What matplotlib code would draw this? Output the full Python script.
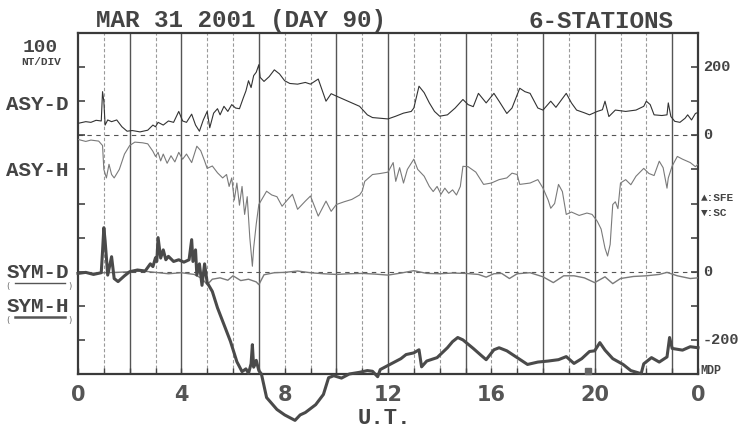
import matplotlib
matplotlib.use("Agg")
import matplotlib.pyplot as plt
import matplotlib.transforms as mtransforms

# ---- data (nT) ----
asy_d_t = [0.0, 0.3, 0.5, 0.7, 0.9, 0.95, 1.0, 1.05, 1.15, 1.3, 1.5, 1.7, 1.9, 2.1, 2.4, 2.7, 2.9, 3.0,
           3.1, 3.3, 3.5, 3.7, 3.9, 4.05, 4.2, 4.4, 4.55, 4.7, 4.85, 5.0, 5.1, 5.25, 5.4, 5.5, 5.65, 5.8,
           5.95, 6.1, 6.25, 6.4, 6.5, 6.6, 6.7, 6.8, 6.9, 7.0, 7.05, 7.2, 7.4, 7.6, 7.8, 8.0, 8.2, 8.5,
           8.8, 9.0, 9.3, 9.6, 9.8, 10.0, 10.3, 10.6, 10.9, 11.2, 11.4, 11.7, 12.0, 12.3, 12.6, 12.9,
           13.0, 13.2, 13.4, 13.6, 13.8, 14.0, 14.3, 14.6, 14.9, 15.1, 15.3, 15.5, 15.8, 16.1, 16.3,
           16.6, 16.8, 17.1, 17.3, 17.5, 17.8, 18.0, 18.3, 18.5, 18.9, 19.1, 19.3, 19.6, 19.8, 20.1,
           20.3, 20.4, 20.55, 20.8, 21.2, 21.6, 21.9, 22.0, 22.15, 22.3, 22.6, 22.8, 22.85, 22.95,
           23.1, 23.3, 23.5, 23.6, 23.75, 23.9, 24.0]
asy_d = [35, 40, 38, 44, 42, 128, 100, 30, 45, 40, 45, 25, 12, 14, 10, 15, 30, 25,
         38, 30, 42, 38, 70, 42, 38, 62, 30, 12, 45, 70, 22, 65, 78, 60, 85, 70,
         90, 80, 78, 110, 130, 160, 140, 175, 185, 207, 170, 158, 172, 192, 180, 160, 152, 150,
         155, 150, 165, 100, 122, 115, 105, 95, 85, 60, 52, 50, 48, 56, 65, 70,
         80, 144, 125, 95, 70, 56, 60, 80, 105, 90, 84, 123, 95, 123, 100,
         64, 80, 138, 128, 123, 80, 74, 100, 82, 123, 95, 74, 66, 60, 70,
         75, 100, 55, 74, 70, 74, 85, 100, 90, 60, 58, 60, 95, 55,
         41, 38, 50, 60, 45, 64, 67]

asy_h_t = [0.0, 0.3, 0.5, 0.8, 0.95, 1.0, 1.1, 1.2, 1.3, 1.4, 1.6, 1.8, 2.0, 2.2, 2.5, 2.7, 2.9, 3.0,
           3.1, 3.2, 3.3, 3.45, 3.6, 3.75, 3.9, 4.05, 4.2, 4.4, 4.6, 4.75, 4.9, 5.0, 5.2, 5.4, 5.6,
           5.75, 5.85, 5.95, 6.05, 6.15, 6.25, 6.35, 6.45, 6.55, 6.65, 6.75, 6.8, 6.9, 7.0, 7.3, 7.5,
           7.7, 7.9, 8.1, 8.3, 8.5, 8.8, 9.0, 9.3, 9.6, 9.8, 10.0, 10.3, 10.6, 10.9, 11.0, 11.1, 11.4,
           11.7, 12.0, 12.2, 12.3, 12.45, 12.6, 12.75, 12.9, 13.0, 13.15, 13.4, 13.6, 13.75, 13.9,
           14.05, 14.2, 14.35, 14.5, 14.65, 14.8, 14.9, 15.1, 15.4, 15.7, 16.0, 16.3, 16.6, 16.8,
           17.0, 17.1, 17.5, 17.8, 18.0, 18.2, 18.3, 18.45, 18.6, 18.75, 18.9, 19.1, 19.4, 19.7,
           19.9, 20.1, 20.25, 20.4, 20.5, 20.6, 20.7, 20.8, 20.9, 21.0, 21.2, 21.4, 21.6, 21.9,
           22.1, 22.3, 22.5, 22.65, 22.8, 22.85, 23.0, 23.2, 23.4, 23.7, 23.9, 24.0]
asy_h = [-12, -18, -14, -17, -30, -100, -125, -85, -115, -125, -100, -55, -30, -20, -22, -25, -47, -62,
         -50, -75, -55, -82, -60, -78, -50, -70, -55, -80, -32, -45, -75, -97, -90, -110, -125,
         -115, -150, -125, -190, -140, -205, -150, -232, -180, -300, -384, -330, -260, -203, -164, -175,
         -180, -208, -190, -173, -217, -193, -178, -237, -193, -223, -203, -195, -188, -175, -164, -135, -115,
         -112, -108, -80, -135, -95, -140, -100, -82, -70, -100, -120, -150, -165, -150,
         -173, -155, -170, -160, -175, -150, -91, -92, -108, -144, -140, -130, -125, -111,
         -115, -144, -140, -130, -155, -190, -214, -200, -144, -165, -232, -225, -235, -228,
         -232, -252, -275, -331, -354, -320, -203, -195, -215, -140, -130, -145, -120, -97,
         -112, -118, -76, -95, -155, -125, -90, -62, -70, -80, -92, -85]

sym_d_t = [0, 0.5, 1.0, 1.5, 2.0, 2.5, 3.0, 3.5, 4.0, 4.5, 4.8, 5.0, 5.2, 5.5, 5.8, 6.0, 6.3, 6.6,
           6.9, 7.0, 7.2, 7.6, 8.0, 8.5, 9.0, 9.5, 10, 10.5, 11, 11.5, 12.0, 12.5, 13.0, 13.5, 14,
           14.5, 15, 15.5, 15.8, 16.1, 16.4, 16.7, 17.0, 17.5, 18.0, 18.4, 18.8, 19.2, 19.6, 20.0,
           20.4, 20.7, 21.0, 21.5, 22.0, 22.5, 22.8, 23.2, 23.7, 24.0]
sym_d = [-3, -5, -3, -2, 0, 2, -2, -6, -3, -8, -20, -38, -22, -18, -25, -12, -26, -22,
         -30, -38, -9, -3, -2, 2, -3, -6, -8, -6, -5, -7, -10, -4, 3, -5, -6,
         -4, -5, -8, -16, -6, -5, -20, -6, -3, -15, -32, -12, -12, -18, -32,
         -15, -35, -20, -14, -12, -8, -2, -12, -20, -18]

sym_h_t = [0.0, 0.3, 0.6, 0.9, 0.95, 1.0, 1.05, 1.15, 1.3, 1.4, 1.55, 1.8, 2.0, 2.3, 2.6, 2.8, 2.9,
           3.0, 3.05, 3.1, 3.2, 3.3, 3.4, 3.5, 3.7, 3.9, 4.1, 4.3, 4.4, 4.45, 4.55, 4.6, 4.7, 4.8,
           4.9, 5.0, 5.2, 5.4, 5.65, 5.9, 6.15, 6.35, 6.5, 6.6, 6.7, 6.75, 6.8, 6.9, 7.0, 7.1, 7.3,
           7.7, 8.0, 8.2, 8.4, 8.6, 8.8, 9.2, 9.5, 9.7, 9.9, 10.2, 10.5, 10.9, 11.2, 11.4, 11.6,
           11.7, 12.0, 12.2, 12.5, 12.7, 13.0, 13.2, 13.3, 13.5, 13.9, 14.3, 14.5, 14.7, 14.9,
           15.3, 15.6, 15.8, 16.1, 16.3, 16.6, 17.0, 17.4, 17.8, 18.2, 18.6, 18.9, 19.2, 19.5,
           19.8, 20.0, 20.2, 20.4, 20.7, 21.1, 21.4, 21.8, 21.9, 22.2, 22.5, 22.8, 22.9, 23.0,
           23.4, 23.7, 24.0]
sym_h = [-5, -2, -8, -3, 60, 129, 90, -10, 44, -20, -29, -12, 0, 5, 2, 23, 15,
         41, 30, 100, 40, 64, 35, 45, 30, 35, 28, 35, 94, 30, 64, -10, 23, -40,
         23, -32, -58, -106, -155, -204, -264, -293, -285, -298, -270, -214, -280, -260, -290, -300, -369,
         -404, -420, -428, -436, -420, -413, -390, -360, -311, -305, -312, -300, -295, -290, -292, -308,
         -287, -275, -267, -255, -243, -238, -229, -279, -262, -252, -223, -205, -193, -200,
         -225, -245, -258, -229, -223, -232, -252, -272, -265, -262, -258, -249, -269, -255,
         -234, -232, -208, -230, -255, -272, -290, -299, -270, -252, -265, -250, -193, -225,
         -230, -220, -223]

solid_hours = [2, 4, 7, 10, 12, 15, 18, 20, 23]
tick_hours = [0, 4, 8, 12, 16, 20, 24]
tick_labels = ['0', '4', '8', '12', '16', '20', '0']

ASY_OFF = 400  # ASY panel zero sits 4 divisions above SYM zero

W, H = 749, 429
mono = ['Liberation Mono', 'DejaVu Sans Mono']


def px(x, y):
    return x / W, 1 - y / H


fig = plt.figure(figsize=(W / 100, H / 100), dpi=100)
fig.patch.set_facecolor('white')
ax = fig.add_axes([78 / W, 1 - 374 / H, 620 / W, 341 / H])
ax.set_xlim(0, 24)
ax.set_ylim(-300, 700)

# hour lines
for h in range(1, 24):
    if h in solid_hours:
        ax.axvline(h, color='#555555', lw=1.0, zorder=1)
    else:
        ax.axvline(h, color='#9a9a9a', lw=0.8, ls=(0, (3, 2)), zorder=1)

# zero lines
ax.axhline(ASY_OFF, color='#555555', lw=0.8, ls=(0, (4, 4)), zorder=1)
ax.axhline(0, color='#555555', lw=0.8, ls=(0, (4, 4)), zorder=1)

ax.plot(asy_d_t, [v + ASY_OFF for v in asy_d], color='#333333', lw=0.8, zorder=3)
ax.plot(asy_h_t, [v + ASY_OFF for v in asy_h], color='#7a7a7a', lw=0.8, zorder=3)
ax.plot(sym_d_t, sym_d, color='#7a7a7a', lw=1.0, zorder=3)
ax.plot(sym_h_t, sym_h, color='#4a4a4a', lw=2.2, zorder=4, clip_on=False)

# small marker on bottom axis
ax.plot([19.75], [-292], marker='s', ms=5, color='#666666', clip_on=False, zorder=5)

for s in ax.spines.values():
    s.set_color('#3a3a3a')
    s.set_linewidth(1.6)

ax.set_yticks(range(-200, 700, 100))
ax.yaxis.set_ticks_position('both')
ax.tick_params(axis='y', direction='in', length=5, width=1.2, colors='#444444',
               labelleft=False, labelright=False)
ax.set_xticks(tick_hours)
ax.set_xticklabels(tick_labels)
ax.set_xticks(range(25), minor=True)
ax.tick_params(axis='x', which='both', direction='in', length=4, width=1.0, colors='#444444',
               pad=8, labelsize=15, labelcolor='#555555')
for lab in ax.get_xticklabels():
    lab.set_fontweight('bold')

# right-hand labels
tr = mtransforms.blended_transform_factory(ax.transAxes, ax.transData)
for y, s in [(600, '200'), (400, '0'), (0, '0'), (-200, '-200')]:
    ax.text(1.008, y, s, transform=tr, ha='left', va='center', fontsize=11,
            fontweight='bold', family=mono, color='#444444')
fig.text(*px(701, 198), '\u25b2:SFE', ha='left', va='center', fontsize=8,
         fontweight='bold', family=mono, color='#444444')
fig.text(*px(701, 213), '\u25bc:SC', ha='left', va='center', fontsize=8,
         fontweight='bold', family=mono, color='#444444')
fig.text(*px(700, 371), 'MDP', ha='left', va='center', fontsize=8.5,
         fontweight='bold', family=mono, color='#444444')

# titles
fig.text(*px(96, 21), 'MAR 31 2001 (DAY 90)', ha='left', va='center', fontsize=17.5,
         fontweight='bold', family=mono, color='#444444')
fig.text(*px(528, 22), '6-STATIONS', ha='left', va='center', fontsize=17.5,
         fontweight='bold', family=mono, color='#444444')

# left labels
fig.text(*px(40, 47), '100', ha='center', va='center', fontsize=14,
         fontweight='bold', family=mono, color='#444444')
fig.text(*px(41, 62), 'NT/DIV', ha='center', va='center', fontsize=8,
         fontweight='bold', family=mono, color='#444444')
fig.text(*px(37, 104), 'ASY-D', ha='center', va='center', fontsize=15,
         fontweight='bold', family=mono, color='#444444')
fig.text(*px(37, 171), 'ASY-H', ha='center', va='center', fontsize=15,
         fontweight='bold', family=mono, color='#444444')
fig.text(*px(38, 273), 'SYM-D', ha='center', va='center', fontsize=15,
         fontweight='bold', family=mono, color='#444444')
fig.text(*px(38, 307), 'SYM-H', ha='center', va='center', fontsize=15,
         fontweight='bold', family=mono, color='#444444')
for y, lw in [(283, 1.0), (317, 1.8)]:
    x0, yy = px(15, y)
    x1, _ = px(65, y)
    fig.add_artist(plt.Line2D([x0, x1], [yy, yy], color='#555555', lw=lw))
    fig.text(*px(8, y + 4), '(', ha='center', va='center', fontsize=6, color='#666666')
    fig.text(*px(70, y + 4), ')', ha='center', va='center', fontsize=6, color='#666666')

fig.text(*px(384, 419), 'U.T.', ha='center', va='center', fontsize=16,
         fontweight='bold', family=mono, color='#444444')

fig.savefig('out.png', dpi=100, facecolor='white')
